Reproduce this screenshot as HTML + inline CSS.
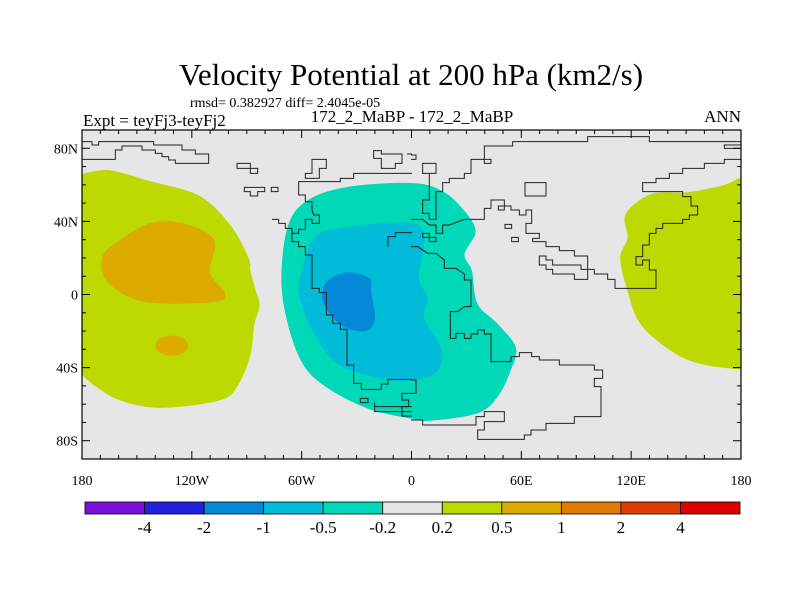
<!DOCTYPE html>
<html><head><meta charset="utf-8"><style>
body{margin:0;background:#fff}
svg text{font-family:"Liberation Serif",serif;fill:#000}
</style></head><body>
<svg id="c" width="800" height="600" xmlns="http://www.w3.org/2000/svg">
<text x="411" y="85" font-size="31" text-anchor="middle">Velocity Potential at 200 hPa (km2/s)</text>
<text x="190" y="107" font-size="14">rmsd= 0.382927 diff= 2.4045e-05</text>
<text x="83" y="126" font-size="17">Expt = teyFj3-teyFj2</text>
<text x="412" y="122" font-size="17" text-anchor="middle">172_2_MaBP - 172_2_MaBP</text>
<text x="741" y="122" font-size="17" text-anchor="end">ANN</text>
<rect x="82" y="130" width="659" height="329" fill="#e6e6e6"/>
<g id="fills"></g>
<g fill="none" stroke="#222" stroke-width="3" transform="translate(82,130) scale(0.33333)">
<polyline points="0,35 30,35 30,45 50,45 50,35 215,35 215,45 300,45 300,60 340,60 340,72 380,72 380,100 280,100 280,90 260,90 260,80 240,80 240,70 220,70 220,60 180,60 180,48 120,48 120,60 100,60 100,88 0,88"/>
<polygon points="465,100 505,100 505,115 527,115 527,130 505,130 505,115 465,115"/>
<polygon points="487,172 548,172 548,185 527,185 527,198 505,198 505,185 487,185"/>
<polygon points="568,172 588,172 588,185 568,185"/>
<polygon points="690,88 733,88 733,115 712,115 712,145 670,145 670,130 690,130"/>
<polygon points="875,62 898,62 898,72 960,72 960,100 940,100 940,115 898,115 898,85 875,85"/>
<polyline points="975,72 990,72"/>
<polyline points="570,268 590,268 590,280 610,280 610,295 630,295 630,310"/>
<polyline points="990,130 815,130 815,145 775,145 775,155 650,155 650,195 670,195 670,215 690,215 690,240 695,255 712,255 712,280 690,280 690,268 670,268 670,298 650,298 650,310 630,310 630,335 650,335 650,350 670,350 670,375 690,375 690,475 712,475 712,488 733,488 733,555 752,555 752,580 775,580 775,598 795,598 795,705 815,705 815,760 838,760 838,778 898,778 898,762 918,762 918,748 990,748"/>
<polyline points="918,350 918,320 940,320 940,308 990,308"/>
<polygon points="835,805 858,805 858,818 835,818"/>
<polyline points="990,790 960,790 960,810 980,810 980,830 960,830 960,858 990,858"/>
<polyline points="990,830 878,830 878,818 878,845 990,845"/>
</g>
<g fill="none" stroke="#222" stroke-width="3" transform="translate(411,130) scale(0.33333)">
<polyline points="0,75 15,75 15,88 0,88"/>
<polygon points="35,100 75,100 75,130 35,130"/>
<polygon points="342,158 405,158 405,198 342,198"/>
<polyline points="990,35 715,35 715,20 530,20 530,35 305,35 305,48 220,48 220,100 240,100 240,88 180,88 180,130 160,130 160,145 115,145 115,158 95,158 95,185 75,185 75,268 55,268 55,250 35,250 35,210 55,210 55,130"/>
<polyline points="0,268 35,268 55,285 75,285 75,310 95,310 95,285 115,285 160,268 220,268 220,235 240,235 240,210 280,210 280,228 300,228 300,240 325,240 325,255 345,255 345,240 362,240 362,280 345,280 345,310 385,310 385,325 365,325 365,335 405,335 405,350 445,350 445,362 490,362 490,378 530,378 530,418 550,418 550,432 590,432 590,448 612,448 612,475 735,475 735,420 715,420 715,390 695,390 695,405 675,405 675,380 695,380 695,345 715,345 715,310 735,310 735,295 755,295 755,280 815,280 815,268 835,268 835,255 860,255 860,228 840,228 840,200 815,200 815,185 695,185 695,158 735,158 735,145 775,145 775,130 815,130 815,115 880,115 880,100 940,100 940,88 990,88"/>
<polygon points="385,378 405,378 405,390 425,390 425,405 510,405 510,418 530,418 530,448 490,448 490,432 425,432 425,418 405,418 405,405 385,405"/>
<polygon points="262,228 280,228 280,240 262,240"/>
<polygon points="282,283 302,283 302,295 282,295"/>
<polygon points="302,322 322,322 322,335 302,335"/>
<polygon points="35,310 55,310 55,322 75,322 75,335 55,335 55,322 35,322"/>
<polyline points="0,350 20,350 50,370 75,370 100,390 100,415 135,415 160,432 160,450 180,450 180,530 160,530 140,545 118,545 118,625 135,625 135,610 160,610 160,625 180,625 180,612 200,612 200,600 220,600 220,612 240,612 240,695 300,695 300,680 325,680 325,668 362,668 362,680 385,680 385,690 445,690 445,705 550,705 550,720 575,720 575,745 550,745 550,770 570,770 570,860 490,860 490,880 405,880 405,900 360,900 360,915 340,915 340,928 200,928 200,900 220,900 220,875 280,875 280,845 220,845 220,860 195,860 195,885 35,885 35,870 0,870"/>
<polyline points="0,750 15,750 15,790 0,790"/>
<polyline points="990,45 940,45 940,55 990,55"/>
</g>
<g id="frame"></g>
<g id="cbar"></g>
</svg>
<script>
const levelLabels=["-4","-2","-1","-0.5","-0.2","0.2","0.5","1","2","4"];
const levelColors=["#7b0fdc","#2222dd","#0688d8","#00bcd8","#00d8b8","#e6e6e6","#bcd900","#ddaa00","#e07a00","#e03c00","#dd0000"];
const lonTickLabels=["180","120W","60W","0","60E","120E","180"];
const lonTickValues=[-180,-120,-60,0,60,120,180];
const latTickLabels=["80N","40N","0","40S","80S"];
const latTickValues=[80,40,0,-40,-80];
const posWest=[[-180,66],[-165,68],[-143,62],[-116,54],[-99,38],[-89,20],[-88,13],[-85,2],[-83,-6],[-86,-17],[-88,-33],[-95,-50],[-105,-58],[-137,-62],[-159,-58],[-173,-50],[-182,-43],[-195,-40],[-200,10],[-195,64],[-185,66]];
const posEast=[[118,31],[117,44],[131,55],[151,56],[171,60],[181,64],[195,62],[200,10],[195,-40],[181,-41],[158,-38],[142,-31],[125,-16],[118,2],[114,20]];
const posCore=[[-169,20],[-162,28],[-143,39],[-125,39],[-108,30],[-110,12],[-102,1],[-107,-4],[-135,-5],[-153,-2],[-167,8]];
const negOuter=[[-71,13],[-67,39],[-56,52],[-34,59],[0,61],[16,57],[27,48],[35,35],[29,22],[33,13],[36,-5],[47,-16],[57,-29],[54,-42],[47,-56],[36,-65],[11,-69],[0,-68],[-25,-62],[-49,-49],[-61,-35],[-69,-10]];
const negMid=[[-61,8],[-53,31],[-34,37],[0,39],[7,30],[4,9],[9,-2],[7,-13],[16,-29],[14,-42],[0,-47],[-16,-46],[-40,-38],[-54,-20],[-61,-2]];
const negCore=[[-47,6],[-36,12],[-23,9],[-22,1],[-20,-13],[-25,-20],[-38,-17],[-48,-5]];
const smallPos={lon:-131,lat:-28,rlon:9,rlat:5.5};
const X0=82,X1=741,Y0=130,Y1=459;
const xs=lon=>X0+(lon+180)/360*(X1-X0);
const ys=lat=>Y0+(90-lat)/180*(Y1-Y0);
const NS="http://www.w3.org/2000/svg";
function mk(tag,parent){const e=document.createElementNS(NS,tag);parent.appendChild(e);return e;}
function smoothPath(pts){
  const p=pts.map(q=>[xs(q[0]),ys(q[1])]);const n=p.length;let d="M"+p[0][0]+","+p[0][1];
  for(let i=0;i<n;i++){const p0=p[(i-1+n)%n],p1=p[i],p2=p[(i+1)%n],p3=p[(i+2)%n];
    const c1=[p1[0]+(p2[0]-p0[0])/6,p1[1]+(p2[1]-p0[1])/6],c2=[p2[0]-(p3[0]-p1[0])/6,p2[1]-(p3[1]-p1[1])/6];
    d+=" C"+c1+" "+c2+" "+p2;}
  return d+"Z";}
const fills=document.getElementById('fills');
const cp=mk('clipPath',fills);cp.setAttribute('id','mapclip');
const cr=mk('rect',cp);cr.setAttribute('x',X0);cr.setAttribute('y',Y0);cr.setAttribute('width',X1-X0);cr.setAttribute('height',Y1-Y0);
const fg=mk('g',fills);fg.setAttribute('clip-path','url(#mapclip)');
function region(pts,lvl,name){const e=mk('path',fg);e.setAttribute('d',smoothPath(pts));e.setAttribute('fill',levelColors[lvl]);

}
region(posWest,6,'contour-positive-west');
region(posEast,6,'contour-positive-east');
region(posCore,7,'contour-positive-core');
const el=mk('ellipse',fg);el.setAttribute('cx',xs(smallPos.lon));el.setAttribute('cy',ys(smallPos.lat));
el.setAttribute('rx',smallPos.rlon*(X1-X0)/360);el.setAttribute('ry',smallPos.rlat*(Y1-Y0)/180);el.setAttribute('fill',levelColors[7]);


region(negOuter,4,'contour-negative-outer');
region(negMid,3,'contour-negative-mid');
region(negCore,2,'contour-negative-core');
const fr=document.getElementById('frame');
const b=mk('rect',fr);b.setAttribute('x',X0);b.setAttribute('y',Y0);b.setAttribute('width',X1-X0);b.setAttribute('height',Y1-Y0);
b.setAttribute('fill','none');b.setAttribute('stroke','#000');b.setAttribute('stroke-width','1.2');


function line(x1,y1,x2,y2){const l=mk('line',fr);l.setAttribute('x1',x1);l.setAttribute('y1',y1);l.setAttribute('x2',x2);l.setAttribute('y2',y2);l.setAttribute('stroke','#000');l.setAttribute('stroke-width','1');}
for(let lon=-170;lon<180;lon+=10){const x=xs(lon),L=(lon%60===0)?8:4;line(x,Y1,x,Y1-L);line(x,Y0,x,Y0+L);}
for(let lat=-80;lat<=80;lat+=10){const y=ys(lat),L=(lat%40===0)?8:4;line(X0,y,X0+L,y);line(X1,y,X1-L,y);}
lonTickValues.forEach((v,i)=>{const t=mk('text',fr);t.setAttribute('x',xs(v));t.setAttribute('y',485);t.setAttribute('font-size','14');t.setAttribute('text-anchor','middle');t.textContent=lonTickLabels[i];

});
latTickValues.forEach((v,i)=>{const t=mk('text',fr);t.setAttribute('x',78);t.setAttribute('y',ys(v)+5);t.setAttribute('font-size','14');t.setAttribute('text-anchor','end');t.textContent=latTickLabels[i];

});
const cb=document.getElementById('cbar');const CX0=85,CX1=740,CY=502,CH=12,w=(CX1-CX0)/levelColors.length;
levelColors.forEach((c,i)=>{const r=mk('rect',cb);r.setAttribute('x',CX0+i*w);r.setAttribute('y',CY);r.setAttribute('width',w);r.setAttribute('height',CH);r.setAttribute('fill',c);r.setAttribute('stroke','#000');r.setAttribute('stroke-width','0.8');

});
levelLabels.forEach((s,i)=>{const t=mk('text',cb);t.setAttribute('x',CX0+(i+1)*w);t.setAttribute('y',533);t.setAttribute('font-size','17');t.setAttribute('text-anchor','middle');t.textContent=s;

});
</script>
</body></html>
